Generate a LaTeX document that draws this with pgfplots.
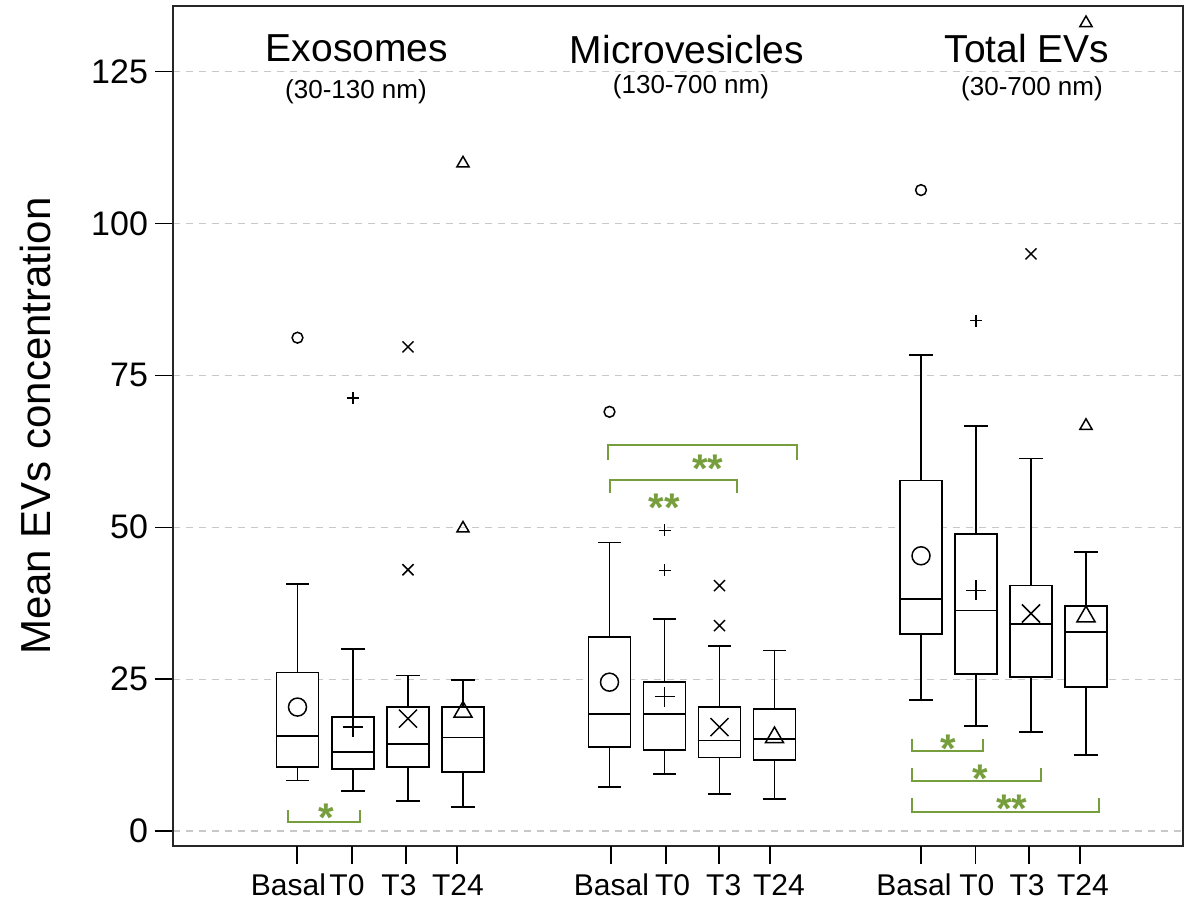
\documentclass[border=0pt]{standalone}
\usepackage{fontspec}
\setmainfont{Liberation Sans}
\usepackage{pgfplots}
\pgfplotsset{compat=1.18}
\definecolor{sig}{RGB}{118,158,60}
\definecolor{gridc}{RGB}{200,200,200}
\pgfplotsset{
  bx/.style={black, fill=white, line width=0.9pt, line cap=rect, line join=miter, no markers, unbounded coords=jump},
  om/.style={only marks, mark options={black, line width=0.75pt}},
}
\begin{document}
\begin{tikzpicture}
\useasboundingbox (-86.5pt,-36pt) rectangle (510.5pt,423pt);
\begin{axis}[
  at={(0pt,0pt)}, anchor=south west,
  scale only axis, width=505pt, height=420pt,
  xmin=173, xmax=1183, ymin=-2.47, ymax=135.8,
  axis line style={line width=0.8pt, black!85},
  ytick={0,25,50,75,100,125},
  ymajorgrids,
  grid style={gridc, dash pattern=on 3.5pt off 3pt, line width=0.6pt},
  tick align=outside, major tick length=9pt,
  xtick pos=bottom, ytick pos=left,
  tick style={black, line width=0.7pt},
  /pgf/number format/assume math mode=true,
  yticklabel style={font=\fontsize{17}{17}\selectfont},
  xticklabel style={font=\fontsize{15}{15}\selectfont, yshift=-1.5pt},
  xtick={288.5,347,399,458,611.5,672.6,723.7,779,914,976.8,1027,1083},
  xticklabels={Basal,T0,T3,T24,Basal,T0,T3,T24,Basal,T0,T3,T24},
  xtick style={draw=none},
  extra x ticks={297,352,406,457,611,666,719,770,921,975.5,1029,1080},
  extra x tick labels={},
  extra x tick style={xtick style={draw=black, line width=0.7pt}},
  ylabel={Mean EVs concentration},
  every axis y label/.style={at={(axis description cs:-0.1366,0.5)}, rotate=90, anchor=center, font=\fontsize{21}{21}\selectfont},
  clip=false,
]
% ---------- Exosomes ----------
% box (lq..uq), median, upper whisker + cap, lower whisker + cap
\addplot[bx] coordinates {(276.5,10.5) (318.5,10.5) (318.5,26.1) (276.5,26.1) (276.5,10.5) (nan,nan) (276.5,15.7) (318.5,15.7) (nan,nan) (297.5,26.1) (297.5,40.7) (nan,nan) (286.5,40.7) (308.5,40.7) (nan,nan) (297.5,10.5) (297.5,8.3) (nan,nan) (286.5,8.3) (308.5,8.3)};
\addplot[bx] coordinates {(332,10.2) (374,10.2) (374,18.7) (332,18.7) (332,10.2) (nan,nan) (332,13.0) (374,13.0) (nan,nan) (353,18.7) (353,30.0) (nan,nan) (342,30.0) (364,30.0) (nan,nan) (353,10.2) (353,6.6) (nan,nan) (342,6.6) (364,6.6)};
\addplot[bx] coordinates {(387,10.5) (429,10.5) (429,20.4) (387,20.4) (387,10.5) (nan,nan) (387,14.3) (429,14.3) (nan,nan) (408,20.4) (408,25.6) (nan,nan) (397,25.6) (419,25.6) (nan,nan) (408,10.5) (408,5.0) (nan,nan) (397,5.0) (419,5.0)};
\addplot[bx] coordinates {(442,9.7) (484,9.7) (484,20.4) (442,20.4) (442,9.7) (nan,nan) (442,15.4) (484,15.4) (nan,nan) (463,20.4) (463,24.8) (nan,nan) (452,24.8) (474,24.8) (nan,nan) (463,9.7) (463,3.9) (nan,nan) (452,3.9) (474,3.9)};
% ---------- Microvesicles ----------
\addplot[bx] coordinates {(588.5,13.8) (630.5,13.8) (630.5,31.9) (588.5,31.9) (588.5,13.8) (nan,nan) (588.5,19.3) (630.5,19.3) (nan,nan) (609.5,31.9) (609.5,47.5) (nan,nan) (598.5,47.5) (620.5,47.5) (nan,nan) (609.5,13.8) (609.5,7.2) (nan,nan) (598.5,7.2) (620.5,7.2)};
\addplot[bx] coordinates {(643.5,13.3) (685.5,13.3) (685.5,24.5) (643.5,24.5) (643.5,13.3) (nan,nan) (643.5,19.3) (685.5,19.3) (nan,nan) (664.5,24.5) (664.5,34.9) (nan,nan) (653.5,34.9) (675.5,34.9) (nan,nan) (664.5,13.3) (664.5,9.4) (nan,nan) (653.5,9.4) (675.5,9.4)};
\addplot[bx] coordinates {(698.5,12.1) (740.5,12.1) (740.5,20.4) (698.5,20.4) (698.5,12.1) (nan,nan) (698.5,14.9) (740.5,14.9) (nan,nan) (719.5,20.4) (719.5,30.5) (nan,nan) (708.5,30.5) (730.5,30.5) (nan,nan) (719.5,12.1) (719.5,6.1) (nan,nan) (708.5,6.1) (730.5,6.1)};
\addplot[bx] coordinates {(753.5,11.7) (795.5,11.7) (795.5,20.1) (753.5,20.1) (753.5,11.7) (nan,nan) (753.5,15.2) (795.5,15.2) (nan,nan) (774.5,20.1) (774.5,29.7) (nan,nan) (763.5,29.7) (785.5,29.7) (nan,nan) (774.5,11.7) (774.5,5.3) (nan,nan) (763.5,5.3) (785.5,5.3)};
% ---------- Total EVs ----------
\addplot[bx] coordinates {(900,32.4) (942,32.4) (942,57.7) (900,57.7) (900,32.4) (nan,nan) (900,38.2) (942,38.2) (nan,nan) (921,57.7) (921,78.3) (nan,nan) (910,78.3) (932,78.3) (nan,nan) (921,32.4) (921,21.6) (nan,nan) (910,21.6) (932,21.6)};
\addplot[bx] coordinates {(955,25.9) (997,25.9) (997,48.9) (955,48.9) (955,25.9) (nan,nan) (955,36.3) (997,36.3) (nan,nan) (976,48.9) (976,66.7) (nan,nan) (965,66.7) (987,66.7) (nan,nan) (976,25.9) (976,17.3) (nan,nan) (965,17.3) (987,17.3)};
\addplot[bx] coordinates {(1010,25.3) (1052,25.3) (1052,40.4) (1010,40.4) (1010,25.3) (nan,nan) (1010,34.1) (1052,34.1) (nan,nan) (1031,40.4) (1031,61.3) (nan,nan) (1020,61.3) (1042,61.3) (nan,nan) (1031,25.3) (1031,16.3) (nan,nan) (1020,16.3) (1042,16.3)};
\addplot[bx] coordinates {(1065,23.7) (1107,23.7) (1107,37.1) (1065,37.1) (1065,23.7) (nan,nan) (1065,32.7) (1107,32.7) (nan,nan) (1086,37.1) (1086,45.9) (nan,nan) (1075,45.9) (1097,45.9) (nan,nan) (1086,23.7) (1086,12.5) (nan,nan) (1075,12.5) (1097,12.5)};
% ---------- outliers ----------
\addplot[om, mark=o, mark size=2.7pt] coordinates {(297.5,81.2) (609.5,69.0) (921,105.5)};
\addplot[om, mark=+, mark size=3pt] coordinates {(353,71.3) (664.5,49.5) (664.5,42.9) (976,84.0)};
\addplot[om, mark=x, mark size=3.9pt] coordinates {(408,43.0) (408,79.7) (719.5,40.4) (719.5,33.8) (1031,95.0)};
\addplot[om, mark=triangle, mark size=3.5pt] coordinates {(463,49.8) (463,109.9) (1086,66.7) (1086,133.0)};
% ---------- means ----------
\addplot[om, mark=o, mark size=4.5pt] coordinates {(297.5,20.4) (609.5,24.5) (921,45.3)};
\addplot[om, mark=+, mark size=5pt] coordinates {(353,17.1) (664.5,22.1) (976,39.6)};
\addplot[om, mark=x, mark size=6.4pt] coordinates {(408,18.5) (719.5,17.1) (1031,35.8)};
\addplot[om, mark=triangle, mark size=5.2pt] coordinates {(463,19.6) (774.5,15.4) (1086,35.3)};
% ---------- significance brackets ----------
\addplot[sig, line width=1pt, no markers] coordinates {(288,3.46) (288,1.43) (360,1.43) (360,3.46)};
\addplot[sig, line width=1pt, no markers] coordinates {(608,61.1) (608,63.46) (797,63.46) (797,61.1)};
\addplot[sig, line width=1pt, no markers] coordinates {(610,55.7) (610,57.8) (737,57.8) (737,55.7)};
\addplot[sig, line width=1pt, no markers] coordinates {(912,15.2) (912,13.2) (983,13.2) (983,15.2)};
\addplot[sig, line width=1pt, no markers] coordinates {(912,10.4) (912,8.3) (1041,8.3) (1041,10.4)};
\addplot[sig, line width=1pt, no markers] coordinates {(912,5.4) (912,3.1) (1099,3.1) (1099,5.4)};
% stars
\begin{scope}[every node/.style={font=\bfseries\fontsize{20}{20}\selectfont, text=sig, anchor=base, inner sep=0pt}]
\node at (axis cs:326,0) {*};
\node at (axis cs:708,57.3) {**};
\node at (axis cs:664.5,50.9) {**};
\node at (axis cs:948,11.2) {*};
\node at (axis cs:980.5,6.42) {*};
\node at (axis cs:1011.7,1.48) {**};
\end{scope}
% titles
\node[font=\fontsize{19.5}{20}\selectfont] at (axis cs:357,128.8) {Exosomes};
\node[font=\fontsize{13}{13}\selectfont] at (axis cs:356,121.7) {(30-130 nm)};
\node[font=\fontsize{19.5}{20}\selectfont] at (axis cs:687,128.6) {Microvesicles};
\node[font=\fontsize{13}{13}\selectfont] at (axis cs:691,122.5) {(130-700 nm)};
\node[font=\fontsize{19.5}{20}\selectfont] at (axis cs:1027,128.8) {Total EVs};
\node[font=\fontsize{13}{13}\selectfont] at (axis cs:1032,122.2) {(30-700 nm)};
\end{axis}
\end{tikzpicture}
\end{document}
